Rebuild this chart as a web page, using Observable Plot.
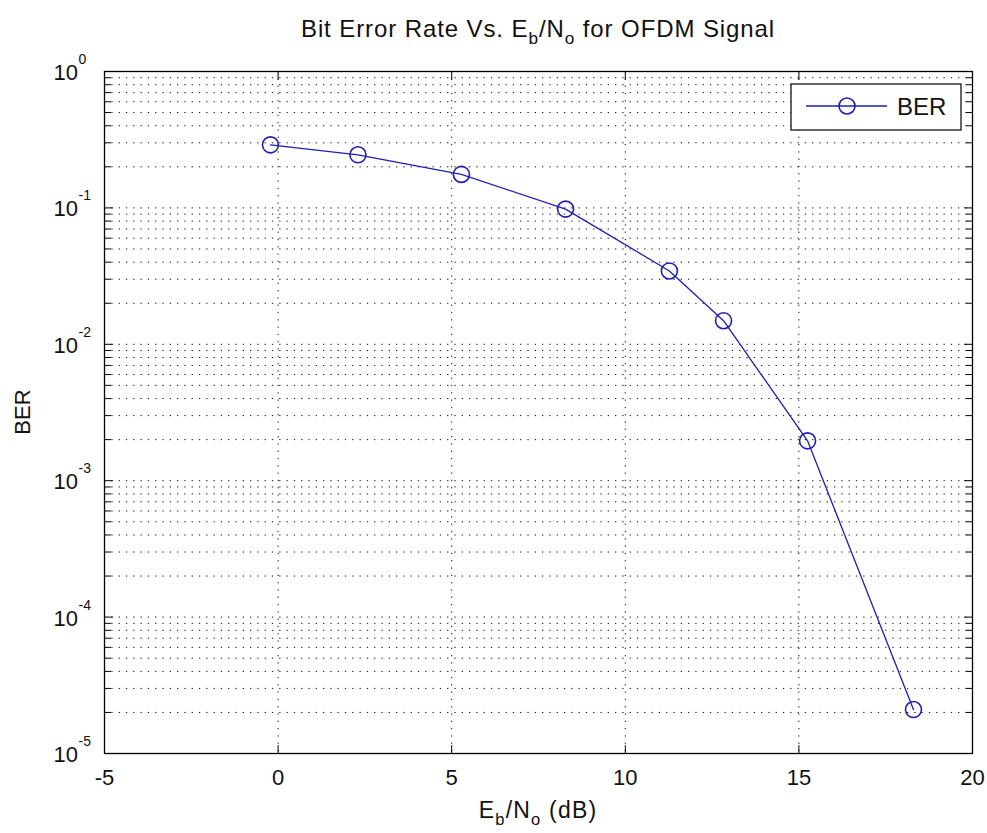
<!DOCTYPE html>
<html>
<head>
<meta charset="utf-8">
<script src="https://cdn.jsdelivr.net/npm/d3@7"></script>
<script src="https://cdn.jsdelivr.net/npm/@observablehq/plot@0.6"></script>
<style>
  html, body { margin: 0; padding: 0; background: #fff; }
  #chart svg { display: block; }
</style>
</head>
<body>
<div id="chart"></div>
<script>
// ---- data ----
const ebnoDb = [-0.22, 2.3, 5.28, 8.28, 11.27, 12.83, 15.25, 18.3];
const berValues = [0.29, 0.245, 0.176, 0.098, 0.0345, 0.0149, 0.00196, 2.1e-5];
const seriesName = "BER";
const xTicks = [-5, 0, 5, 10, 15, 20];
const yDecades = [1e-5, 1e-4, 1e-3, 1e-2, 1e-1, 1];
const yExponents = ["-5", "-4", "-3", "-2", "-1", "0"];
const minorMultipliers = [2, 3, 4, 5, 6, 7, 8, 9];
const titleParts = ["Bit Error Rate Vs. E", "b", "/N", "o", " for OFDM Signal"];
const xLabelParts = ["E", "b", "/N", "o", " (dB)"];
const yLabel = "BER";

// ---- derived tables ----
const data = ebnoDb.map((x, i) => ({x, ber: berValues[i]}));
const yMinor = [];
yDecades.slice(0, -1).forEach(d => minorMultipliers.forEach(m => yMinor.push(d * m)));
const yGrid = yDecades.concat(yMinor);
const yLabels = yDecades.map((d, i) => ({y: d, exp: yExponents[i]}));

const BLUE = "#1e1eb4";
const FONT = "'Liberation Sans', Arial, Helvetica, sans-serif";
const dotted = {stroke: "#111", strokeWidth: 1, strokeDasharray: "1.3,6"};
const tickShapeFor = {
  draw(context, l) { context.moveTo(0, 0); context.lineTo(0, -l); }
};

const W = 987, H = 833;
const mL = 104, mR = 15, mT = 71, mB = 80;

const svg = Plot.plot({
  width: W,
  height: H,
  marginLeft: mL,
  marginRight: mR,
  marginTop: mT,
  marginBottom: mB,
  style: {fontFamily: FONT, background: "#fff", color: "#000"},
  x: {domain: [-5, 20], axis: null},
  y: {type: "log", domain: [1e-5, 1], axis: null},
  marks: [
    // grid
    Plot.ruleY(yGrid, {y: d => d, ...dotted}),
    Plot.ruleX(xTicks, {x: d => d, ...dotted}),
    // inward ticks
    Plot.vector(xTicks, {x: d => d, frameAnchor: "bottom", length: 8, rotate: 0, anchor: "start", shape: tickShapeFor, stroke: "#000", strokeWidth: 1}),
    Plot.vector(xTicks, {x: d => d, frameAnchor: "top", length: 8, rotate: 180, anchor: "start", shape: tickShapeFor, stroke: "#000", strokeWidth: 1}),
    Plot.vector(yDecades, {y: d => d, frameAnchor: "left", length: 8, rotate: 90, anchor: "start", shape: tickShapeFor, stroke: "#000", strokeWidth: 1}),
    Plot.vector(yDecades, {y: d => d, frameAnchor: "right", length: 8, rotate: -90, anchor: "start", shape: tickShapeFor, stroke: "#000", strokeWidth: 1}),
    Plot.vector(yMinor, {y: d => d, frameAnchor: "left", length: 6, rotate: 90, anchor: "start", shape: tickShapeFor, stroke: "#000", strokeWidth: 1}),
    Plot.vector(yMinor, {y: d => d, frameAnchor: "right", length: 6, rotate: -90, anchor: "start", shape: tickShapeFor, stroke: "#000", strokeWidth: 1}),
    Plot.frame({stroke: "#000", strokeWidth: 1.3}),
    // tick labels
    Plot.text(xTicks, {x: d => d, frameAnchor: "bottom", text: d => String(d), lineAnchor: "top", dy: 16, fontSize: 22, fill: "#111"}),
    Plot.text(yLabels, {y: "y", frameAnchor: "left", text: () => "10", textAnchor: "start", lineAnchor: "middle", dx: -51, dy: 1.5, fontSize: 22, fill: "#111"}),
    Plot.text(yLabels, {y: "y", frameAnchor: "left", text: "exp", textAnchor: "start", lineAnchor: "middle", dx: -26, dy: -12, fontSize: 14, fill: "#111"}),
    // data
    Plot.line(data, {x: "x", y: "ber", stroke: BLUE, strokeWidth: 1.3}),
    Plot.dot(data, {x: "x", y: "ber", r: 8, stroke: BLUE, strokeWidth: 1.6, fill: "none"})
  ]
});

document.getElementById("chart").appendChild(svg);

// ---- titles and legend as real SVG text ----
const root = d3.select(svg);
const cx = mL + (W - mL - mR) / 2;

function subText(parts, x, y, size, spacing) {
  const t = root.append("text")
    .attr("x", x).attr("y", y)
    .attr("text-anchor", "middle")
    .attr("font-family", FONT)
    .attr("font-size", size)
    .attr("letter-spacing", spacing)
    .attr("fill", "#111");
  parts.forEach((p, i) => {
    const isSub = i % 2 === 1;
    const ts = t.append("tspan").text(p);
    if (isSub) ts.attr("font-size", size * 0.72).attr("dy", size * 0.3);
    else if (i > 0) ts.attr("dy", -size * 0.3);
  });
  return t;
}
subText(titleParts, cx, 37, 24, 0.9);
subText(xLabelParts, cx, 818, 23, 1.2);

root.append("text")
  .attr("transform", `translate(30, ${mT + (H - mT - mB) / 2}) rotate(-90)`)
  .attr("text-anchor", "middle")
  .attr("font-family", FONT)
  .attr("font-size", 22)
  .attr("fill", "#111")
  .text(yLabel);

// legend
const lg = root.append("g");
lg.append("rect").attr("x", 791).attr("y", 84).attr("width", 170).attr("height", 46)
  .attr("fill", "#fff").attr("stroke", "#000").attr("stroke-width", 1.2);
lg.append("line").attr("x1", 806).attr("x2", 887).attr("y1", 106).attr("y2", 106)
  .attr("stroke", BLUE).attr("stroke-width", 1.3);
lg.append("circle").attr("cx", 847).attr("cy", 106).attr("r", 8)
  .attr("fill", "none").attr("stroke", BLUE).attr("stroke-width", 1.6);
lg.append("text").attr("x", 897).attr("y", 115).attr("font-family", FONT)
  .attr("text-anchor", "start")
  .attr("font-size", 24).attr("fill", "#111").text(seriesName);
</script>
</body>
</html>
